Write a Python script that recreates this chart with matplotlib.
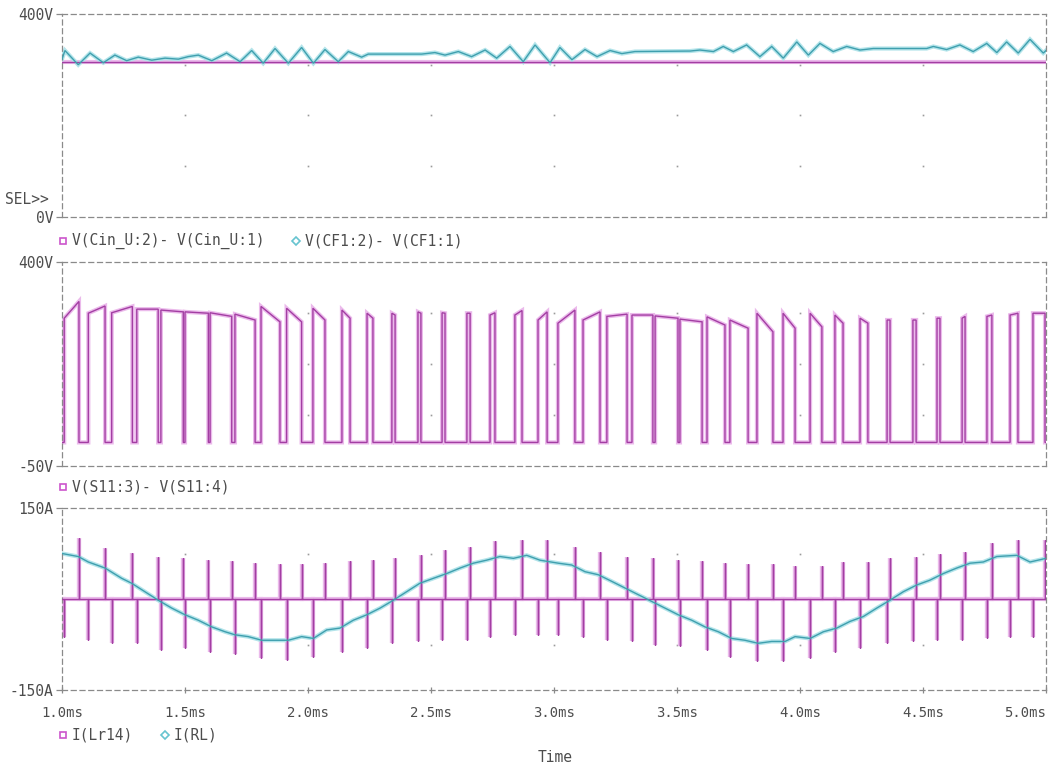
import matplotlib
matplotlib.use("Agg")
import matplotlib.pyplot as plt
from matplotlib.lines import Line2D

W, H = 1050, 766

# ---- time axis ----
time_ticks = [1.0, 1.5, 2.0, 2.5, 3.0, 3.5, 4.0, 4.5, 5.0]
time_labels = ["1.0ms", "1.5ms", "2.0ms", "2.5ms", "3.0ms", "3.5ms", "4.0ms", "4.5ms", "5.0ms"]

# ---- plot 1: capacitor voltages (V) ----
cin_t = [1.0, 5.0]
cin_v = [305, 305]

cf1_t = [1.0, 1.012, 1.066, 1.114, 1.168, 1.215, 1.263, 1.31, 1.365, 1.419, 1.473,
         1.513, 1.554, 1.609, 1.669, 1.724, 1.771, 1.818, 1.866, 1.92, 1.974, 2.022,
         2.069, 2.123, 2.164, 2.218, 2.245, 2.462, 2.516, 2.557, 2.611, 2.665, 2.72,
         2.767, 2.821, 2.875, 2.923, 2.984, 3.024, 3.073, 3.126, 3.175, 3.228, 3.276,
         3.329, 3.553, 3.593, 3.648, 3.688, 3.729, 3.783, 3.837, 3.885, 3.932, 3.987,
         4.034, 4.081, 4.135, 4.19, 4.244, 4.298, 4.515, 4.542, 4.596, 4.65, 4.704,
         4.759, 4.8, 4.84, 4.887, 4.935, 4.989, 5.0]
cf1_v = [311, 328, 300, 323, 304, 319, 308, 315, 309, 313, 311,
         316, 319, 308, 323, 306, 328, 303, 332, 303, 334, 303,
         330, 306, 326, 315, 321, 321, 324, 319, 326, 316, 329,
         313, 336, 306, 339, 304, 334, 310, 330, 316, 328, 322,
         326, 327, 329, 326, 336, 326, 339, 316, 336, 313, 345,
         319, 342, 326, 336, 329, 332, 332, 336, 330, 339, 326,
         342, 324, 345, 323, 350, 323, 328]

# ---- plot 2: switch voltage V(S11:3)-V(S11:4), one pulse per switching period ----
s11_rise = [1.009, 1.107, 1.202, 1.304, 1.402, 1.500, 1.602, 1.703, 1.809, 1.913,
            2.020, 2.138, 2.240, 2.341, 2.447, 2.545, 2.646, 2.740, 2.841, 2.935,
            3.016, 3.118, 3.215, 3.317, 3.411, 3.512, 3.622, 3.715, 3.825, 3.931,
            4.041, 4.142, 4.244, 4.354, 4.459, 4.557, 4.659, 4.760, 4.854, 4.947]
s11_fall = [1.069, 1.175, 1.286, 1.391, 1.493, 1.595, 1.690, 1.785, 1.886, 1.974,
            2.069, 2.171, 2.264, 2.354, 2.459, 2.557, 2.659, 2.760, 2.870, 2.972,
            3.085, 3.187, 3.297, 3.402, 3.504, 3.602, 3.695, 3.789, 3.890, 3.980,
            4.089, 4.175, 4.276, 4.366, 4.472, 4.569, 4.671, 4.780, 4.886, 4.996]
s11_v_on = [276, 287, 288, 296, 294, 290, 288, 285, 302, 298,
            298, 294, 287, 287, 290, 288, 287, 283, 283, 272,
            265, 272, 280, 283, 281, 274, 279, 272, 287, 287,
            287, 283, 276, 272, 272, 276, 276, 280, 283, 287]
s11_v_off = [313, 303, 302, 296, 290, 287, 280, 272, 268, 268,
             272, 276, 276, 283, 287, 287, 287, 288, 293, 290,
             294, 290, 285, 283, 276, 268, 261, 254, 246, 254,
             257, 265, 265, 272, 272, 276, 280, 283, 287, 287]
s11_low = 2.0

# ---- plot 3: currents (A) ----
lr_at_rise = [-62, -67, -73, -73, -84, -80, -87, -90, -98, -100,
              -95, -87, -81, -73, -70, -67, -67, -62, -60, -60,
              -60, -62, -67, -70, -75, -78, -84, -95, -103, -103,
              -98, -87, -81, -73, -70, -67, -67, -65, -62, -62]
lr_at_fall = [100, 84, 76, 70, 68, 65, 62, 59, 57, 57,
              59, 62, 65, 68, 73, 81, 86, 95, 97, 97,
              86, 78, 70, 68, 65, 62, 59, 57, 57, 54,
              55, 61, 61, 67, 70, 75, 78, 92, 97, 97]

rl_t = [1.0, 1.066, 1.107, 1.175, 1.243, 1.283, 1.337, 1.391, 1.446, 1.5,
        1.554, 1.609, 1.663, 1.703, 1.757, 1.812, 1.866, 1.92, 1.974, 2.022,
        2.076, 2.13, 2.184, 2.239, 2.293, 2.347, 2.401, 2.455, 2.509, 2.564,
        2.618, 2.672, 2.726, 2.78, 2.835, 2.889, 2.943, 3.018, 3.072, 3.126,
        3.18, 3.235, 3.289, 3.343, 3.397, 3.451, 3.505, 3.56, 3.614, 3.668,
        3.722, 3.776, 3.83, 3.885, 3.939, 3.98, 4.041, 4.095, 4.149, 4.203,
        4.257, 4.312, 4.366, 4.42, 4.474, 4.528, 4.583, 4.637, 4.691, 4.745,
        4.8, 4.881, 4.935, 5.0]
rl_i = [75, 70, 61, 51, 34, 26, 12, -2, -15, -26,
        -35, -46, -54, -59, -62, -68, -68, -68, -62, -65,
        -51, -48, -35, -26, -15, -2, 12, 26, 34, 42,
        51, 59, 64, 70, 67, 72, 64, 59, 56, 45,
        40, 29, 18, 7, -4, -15, -26, -35, -46, -54,
        -65, -68, -73, -70, -70, -62, -65, -54, -48, -37,
        -29, -15, -2, 12, 23, 31, 42, 51, 59, 61,
        70, 72, 61, 67]

# ---- styling ----
MAG_CORE, MAG_GLOW = "#a33ea3", "#ebbaeb"
CYA_CORE, CYA_GLOW = "#3f9fae", "#b3e4ea"
TXT = "#4d4d4d"
GRIDC = "#9a9a9a"
MONO = "DejaVu Sans Mono"
FS = 10.5

fig = plt.figure(figsize=(W / 100, H / 100), dpi=100)
fig.patch.set_facecolor("white")


def axes_px(top, bottom):
    return fig.add_axes([62 / W, 1 - bottom / H, 984 / W, (bottom - top) / H])


def trace(ax, t, y, core, glow):
    ax.plot(t, y, color=glow, lw=3.0, solid_joinstyle="miter", zorder=2)
    ax.plot(t, y, color=core, lw=1.0, solid_joinstyle="miter", zorder=3)


def frame(ax, ylo, yhi):
    ax.set_xlim(time_ticks[0], time_ticks[-1])
    ax.set_ylim(ylo, yhi)
    for sp in ax.spines.values():
        sp.set_linestyle((0, (4, 3)))
        sp.set_color("#8a8a8a")
        sp.set_linewidth(0.9)
    ax.set_facecolor("white")
    # dotted grid: points at every time tick and quarter heights
    for tx in time_ticks[1:-1]:
        for fr in (0.25, 0.5, 0.75):
            ax.plot([tx], [ylo + fr * (yhi - ylo)], marker="s", ms=1.2,
                    color=GRIDC, mec="none", zorder=1)


def ylabels(ax, ticks, labels):
    ax.set_yticks(ticks)
    ax.set_yticklabels(labels, fontfamily=MONO, fontsize=FS, color=TXT)
    ax.tick_params(axis="y", length=4, width=0.9, color="#8a8a8a", pad=2)


def legend_row(y_px, items):
    for x_px, sym, col, text in items:
        fig.add_artist(Line2D([x_px / W], [1 - y_px / H], marker=sym, ms=4.5,
                              mfc="none", mec=col, mew=1.2, transform=fig.transFigure))
        fig.text((x_px + 9) / W, 1 - y_px / H, text, fontfamily=MONO, fontsize=FS,
                 color=TXT, va="center", ha="left")


# Plot 1
ax1 = axes_px(14, 217)
frame(ax1, 0, 400)
trace(ax1, cin_t, cin_v, MAG_CORE, MAG_GLOW)
trace(ax1, cf1_t, cf1_v, CYA_CORE, CYA_GLOW)
ylabels(ax1, [0, 400], ["0V", "400V"])
ax1.set_xticks([])
fig.text(5 / W, 1 - 199 / H, "SEL>>", fontfamily=MONO, fontsize=FS, color=TXT,
         va="center", ha="left")
legend_row(241, [(63, "s", "#cc55cc", "V(Cin_U:2)- V(Cin_U:1)"),
                 (296, "D", "#66c4d0", "V(CF1:2)- V(CF1:1)")])

# Plot 2
ax2 = axes_px(262, 466)
frame(ax2, -50, 400)
t2, v2 = [time_ticks[0]], [s11_low]
for r, f, von, voff in zip(s11_rise, s11_fall, s11_v_on, s11_v_off):
    t2 += [r, r, f, f]
    v2 += [s11_low, von, voff, s11_low]
t2.append(time_ticks[-1])
v2.append(s11_low)
trace(ax2, t2, v2, MAG_CORE, MAG_GLOW)
ylabels(ax2, [-50, 400], ["-50V", "400V"])
ax2.set_xticks([])
legend_row(487, [(63, "s", "#cc55cc", "V(S11:3)- V(S11:4)")])

# Plot 3
ax3 = axes_px(508, 690)
frame(ax3, -150, 150)
edges = sorted(list(zip(s11_rise, lr_at_rise)) + list(zip(s11_fall, lr_at_fall)))
t3, i3 = [time_ticks[0]], [0]
for te, pk in edges:
    t3 += [te, te, te]
    i3 += [0, pk, 0]
t3.append(time_ticks[-1])
i3.append(0)
trace(ax3, t3, i3, MAG_CORE, MAG_GLOW)
trace(ax3, rl_t, rl_i, CYA_CORE, CYA_GLOW)
ylabels(ax3, [-150, 150], ["-150A", "150A"])
ax3.set_xticks(time_ticks)
ax3.set_xticklabels(time_labels, fontfamily=MONO, fontsize=10, color=TXT)
ax3.tick_params(axis="x", direction="inout", length=5, width=0.9, color="#8a8a8a", pad=9)
# keep the last time label inside the figure
ax3.get_xticklabels()[-1].set_horizontalalignment("right")
legend_row(735, [(63, "s", "#cc55cc", "I(Lr14)"),
                 (165, "D", "#66c4d0", "I(RL)")])

fig.text(555 / W, 1 - 757 / H, "Time", fontfamily=MONO, fontsize=FS, color=TXT,
         va="center", ha="center")

fig.savefig("out.png", dpi=100, facecolor="white")
